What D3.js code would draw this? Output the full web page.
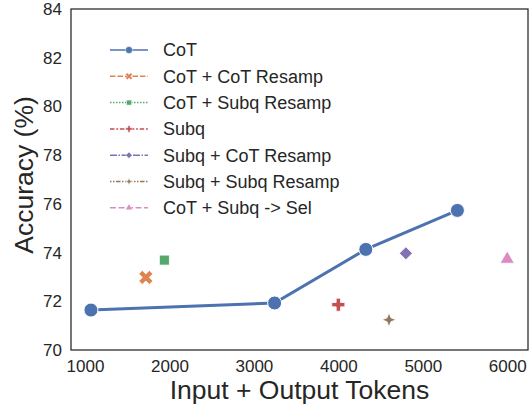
<!DOCTYPE html>
<html>
<head>
<meta charset="utf-8">
<script src="https://cdnjs.cloudflare.com/ajax/libs/d3/7.8.5/d3.min.js"></script>
<style>
  body { margin: 0; background: white; }
  text { font-family: "Liberation Sans", Arial, sans-serif; fill: #262626; }
</style>
</head>
<body>
<div id="chart"></div>
<script>
// CoT line
var cotTokens = [1070, 3245, 4325, 5410];
var cotAcc = [71.64, 71.93, 74.13, 75.73];

// single-point methods
var methodNames = ["CoT + CoT Resamp", "CoT + Subq Resamp", "Subq", "Subq + CoT Resamp", "Subq + Subq Resamp", "CoT + Subq -> Sel"];
var methodTokens = [1720, 1940, 4000, 4800, 4600, 6000];
var methodAcc = [72.98, 73.69, 71.86, 73.97, 71.24, 73.73];

var legendNames = ["CoT"].concat(methodNames);
var xTicks = [1000, 2000, 3000, 4000, 5000, 6000];
var yTicks = [70, 72, 74, 76, 78, 80, 82, 84];

var colors = ["#4c72b0", "#dd8452", "#55a868", "#c44e52", "#8172b3", "#937860", "#da8bc3"];
var dashes = ["", "5.5,2", "1.5,1.5", "4.5,1.8,1.8,1.8", "7,1.5,1.5,1.5", "1.5,1.5,1.5,1.5,4.5,1.5", "6,2.5"];

var fullWidth = 529, fullHeight = 404;
var margin = {top: 9, right: 1, bottom: 54, left: 71};
var width = fullWidth - margin.left - margin.right;
var height = fullHeight - margin.top - margin.bottom;

var svg = d3.select("#chart").append("svg")
  .attr("width", fullWidth)
  .attr("height", fullHeight);

var g = svg.append("g")
  .attr("transform", "translate(" + margin.left + "," + margin.top + ")");

var x = d3.scaleLinear().domain([834, 6246]).range([0, width]);
var y = d3.scaleLinear().domain([70, 84]).range([height, 0]);

// marker shapes
function star4(r) {
  var pts = [];
  for (var i = 0; i < 8; i++) {
    var a = i * Math.PI / 4 - Math.PI / 2;
    var rr = i % 2 === 0 ? r : r * 0.4;
    pts.push([rr * Math.cos(a), rr * Math.sin(a)]);
  }
  return "M" + pts.join("L") + "Z";
}
function markerPath(i, s) {
  // s = scale factor (1 for plot, smaller for legend)
  if (i === 0) return d3.symbol(d3.symbolCircle, 154 * s * s)();
  if (i === 1) return d3.symbol(d3.symbolCross, 125 * s * s)();
  if (i === 2) return d3.symbol(d3.symbolSquare, 100 * s * s)();
  if (i === 3) return d3.symbol(d3.symbolCross, 95 * s * s)();
  if (i === 4) return d3.symbol(d3.symbolSquare, 85 * s * s)();
  if (i === 5) return star4(7 * s);
  return d3.symbol(d3.symbolTriangle, 88 * s * s)();
}
function markerRot(i) {
  return (i === 1 || i === 4) ? " rotate(45)" : "";
}

// axes
var xAxis = d3.axisBottom(x).tickValues(xTicks).tickSize(0).tickPadding(10).tickFormat(d3.format("d"));
var yAxis = d3.axisLeft(y).tickValues(yTicks).tickSize(0).tickPadding(9);

g.append("g").attr("transform", "translate(0," + height + ")").call(xAxis)
  .call(function(s) { s.select(".domain").remove(); })
  .selectAll("text").attr("font-size", 17).attr("fill", "#262626");
g.append("g").call(yAxis)
  .call(function(s) { s.select(".domain").remove(); })
  .selectAll("text").attr("font-size", 17).attr("fill", "#262626");

g.append("rect")
  .attr("width", width).attr("height", height)
  .attr("fill", "none").attr("stroke", "#262626").attr("stroke-width", 1.25);

// CoT line
var line = d3.line().x(function(d) { return x(d[0]); }).y(function(d) { return y(d[1]); });
var cotData = cotTokens.map(function(t, i) { return [t, cotAcc[i]]; });

g.append("path")
  .datum(cotData)
  .attr("d", line)
  .attr("fill", "none")
  .attr("stroke", colors[0])
  .attr("stroke-width", 3);

g.selectAll(".cot")
  .data(cotData)
  .enter().append("path")
    .attr("class", "cot")
    .attr("d", markerPath(0, 1))
    .attr("transform", function(d) { return "translate(" + x(d[0]) + "," + y(d[1]) + ")"; })
    .attr("fill", colors[0])
    .attr("stroke", "white")
    .attr("stroke-width", 1);

// other methods
g.selectAll(".method")
  .data(methodNames)
  .enter().append("path")
    .attr("class", "method")
    .attr("d", function(d, i) { return markerPath(i + 1, 1); })
    .attr("transform", function(d, i) {
      return "translate(" + x(methodTokens[i]) + "," + y(methodAcc[i]) + ")" + markerRot(i + 1);
    })
    .attr("fill", function(d, i) { return colors[i + 1]; })
    .attr("stroke", "white")
    .attr("stroke-width", 0.8);

// legend
var legend = svg.append("g").attr("transform", "translate(110,50)");
var rows = legend.selectAll("g")
  .data(legendNames)
  .enter().append("g")
    .attr("transform", function(d, i) { return "translate(0," + (i * 26.3) + ")"; });

rows.append("line")
  .attr("x1", 0).attr("x2", 38)
  .attr("stroke", function(d, i) { return colors[i]; })
  .attr("stroke-width", 1.5)
  .attr("stroke-dasharray", function(d, i) { return dashes[i]; });

rows.append("path")
  .attr("d", function(d, i) { return markerPath(i, 0.5); })
  .attr("transform", function(d, i) { return "translate(19,0)" + markerRot(i); })
  .attr("fill", function(d, i) { return colors[i]; })
  .attr("stroke", "white")
  .attr("stroke-width", 0.5);

rows.append("text")
  .attr("x", 53)
  .attr("dy", "0.35em")
  .attr("font-size", 18)
  .text(function(d) { return d; });

// axis titles
svg.append("text")
  .attr("x", margin.left + width / 2)
  .attr("y", 399)
  .attr("text-anchor", "middle")
  .attr("font-size", 26.5)
  .text("Input + Output Tokens");

svg.append("text")
  .attr("transform", "translate(32.5,175) rotate(-90)")
  .attr("text-anchor", "middle")
  .attr("font-size", 26.5)
  .text("Accuracy (%)");
</script>
</body>
</html>
